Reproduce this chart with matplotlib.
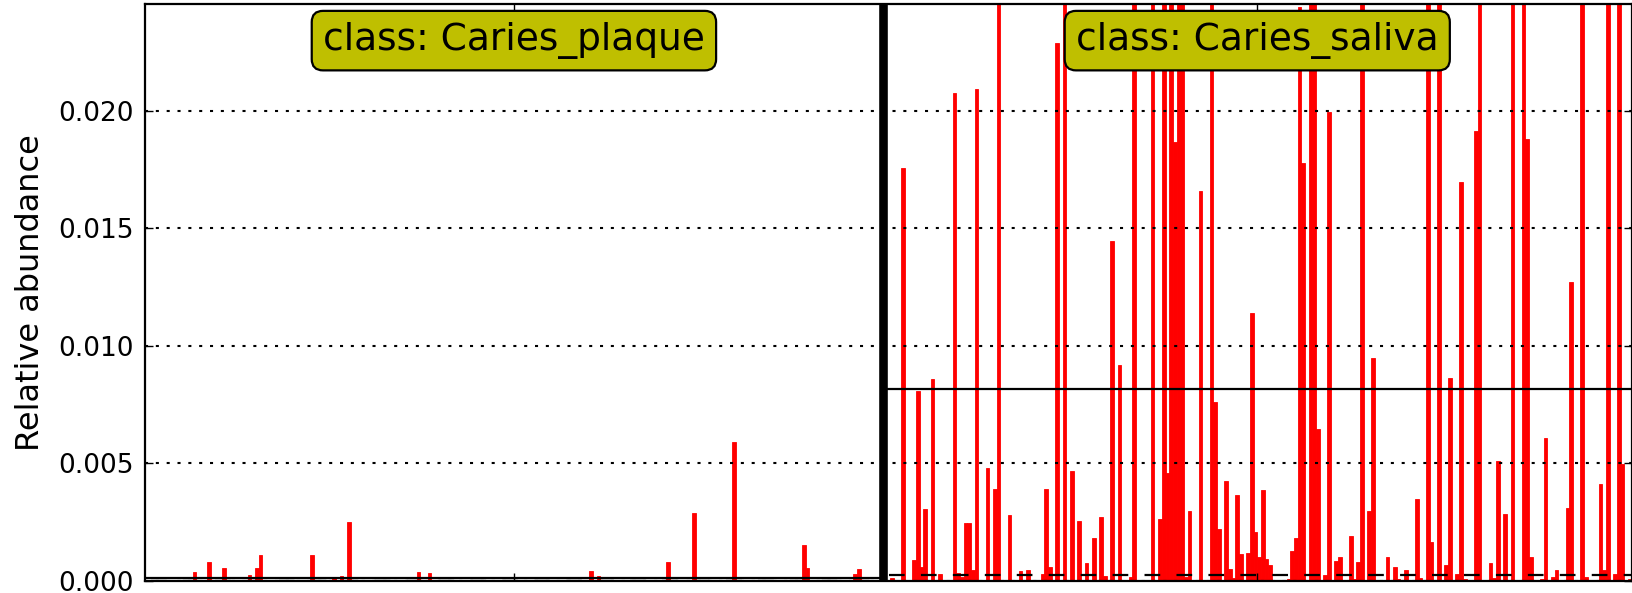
import numpy as np
import matplotlib.pyplot as plt
import matplotlib.transforms as mtransforms
from matplotlib.ticker import FormatStrFormatter

plt.rcParams['lines.scale_dashes'] = False

classes = ['Caries_plaque', 'Caries_saliva']
n_samples = [201, 204]

# only the non-zero samples are listed (values x 1e-3), all other samples are 0
plaque_pos = [13, 17, 21, 28, 30, 31, 45, 51, 53, 55, 74, 77, 121, 123, 142, 149,
              160, 179, 180, 193, 194]
plaque_val = [0.38, 0.80, 0.55, 0.23, 0.55, 1.11, 1.11, 0.17, 0.21, 2.51, 0.36, 0.34,
              0.43, 0.21, 0.80, 2.90, 5.92, 1.52, 0.55, 0.28, 0.51]

saliva_pos = [2, 5, 8, 9, 10, 11, 13, 15, 19, 20,
              21, 22, 23, 24, 25, 28, 30, 31, 34, 37,
              39, 43, 44, 45, 47, 49, 51, 53, 55, 57,
              59, 60, 62, 64, 67, 68, 73, 75, 76, 77,
              78, 79, 80, 81, 82, 83, 86, 89, 90, 91,
              93, 94, 95, 96, 97, 99, 100, 101, 102, 103,
              104, 105, 110, 111, 112, 113, 114, 116, 117, 118,
              120, 121, 123, 124, 127, 128, 129, 130, 132, 133,
              137, 139, 140, 142, 145, 146, 148, 149, 151, 153,
              154, 156, 157, 158, 161, 162, 165, 166, 167, 169,
              171, 174, 175, 176, 179, 180, 182, 183, 186, 187,
              190, 191, 195, 196, 197, 199, 200, 201, 203]
# bars running past the top edge are estimates chosen to keep the class mean ~0.0081
saliva_val = [0.14, 17.55, 0.88, 8.06, 0.57, 3.06, 8.60, 0.31, 20.77, 0.35,
              0.17, 2.46, 2.46, 0.48, 20.93, 4.82, 3.92, 45.2, 2.82, 0.42,
              0.45, 0.28, 3.90, 0.57, 22.9, 38.7, 4.67, 2.55, 0.74, 1.83,
              2.72, 0.21, 14.45, 9.19, 0.17, 91.3, 52.8, 2.61, 34.6, 4.59,
              108.4, 18.68, 146.5, 64.9, 0.17, 2.99, 16.58, 41.3, 7.62, 2.20,
              4.25, 0.51, 0.10, 3.63, 1.12, 1.20, 11.4, 2.07, 1.02, 3.88,
              0.92, 0.69, 0.08, 1.27, 1.80, 24.4, 17.76, 117.2, 58.4, 6.46,
              0.23, 19.96, 0.86, 1.02, 1.90, 0.07, 0.82, 33.1, 2.99, 9.48,
              1.02, 0.59, 0.06, 0.45, 3.47, 0.14, 47.6, 1.67, 29.8, 0.69,
              8.64, 0.27, 16.95, 0.06, 19.14, 102.7, 0.74, 0.10, 5.11, 2.86,
              36.9, 55.3, 18.78, 1.03, 0.08, 6.09, 0.16, 0.44, 3.10, 12.72,
              44.1, 0.16, 4.12, 0.45, 27.5, 0.31, 31.0, 4.97, 0.06]

plaque = np.zeros(n_samples[0])
plaque[plaque_pos] = np.array(plaque_val) * 1e-3
saliva = np.zeros(n_samples[1])
saliva[saliva_pos] = np.array(saliva_val) * 1e-3
groups = [plaque, saliva]
vals = np.concatenate(groups)

W, H = 1633, 593
fig = plt.figure(figsize=(W / 100, H / 100), dpi=100)
ax = fig.add_axes([145 / W, 12.2 / H, 1486.7 / W, 576.8 / H])

ax.bar(np.arange(len(vals)), vals, width=1.0, align='edge', color='red',
       edgecolor='red', lw=0.6, zorder=1)

# mean (solid) and median (dashed) of every class, thick separators between classes
start = 0
centers = []
for g in groups:
    end = start + len(g)
    ax.plot([start, end], [np.mean(g)] * 2, '-', color='k', lw=1.6, zorder=3)
    ax.plot([start, end], [np.median(g)] * 2, color='k', lw=1.6, zorder=3,
            linestyle=(18.7, (11.3, 11.7)))
    centers.append((start + end) / 2)
    if end < len(vals):
        ax.axvline(end, color='k', lw=6.2, zorder=4)
    start = end

ax.set_xlim(0, len(vals))
ax.set_ylim(0, 0.02454)

ax.set_yticks([0.0, 0.005, 0.010, 0.015, 0.020])
ax.yaxis.set_major_formatter(FormatStrFormatter('%.3f'))
ax.set_xticks(centers)
ax.set_xticklabels(['', ''])
ax.yaxis.grid(True, color='k', lw=1.5, linestyle=(0, (2.2, 5.6)))
ax.set_axisbelow(False)
ax.tick_params(direction='in', top=True, right=True, length=6, width=1,
               labelsize=19, pad=8)
for s in ax.spines.values():
    s.set_linewidth(1.6)

ax.set_ylabel('Relative abundance', fontsize=23, labelpad=9)

trans = mtransforms.blended_transform_factory(ax.transData, ax.transAxes)
for c, x in zip(classes, centers):
    ax.text(x, 0.9365, 'class: ' + c, transform=trans, ha='center', va='center',
            fontsize=27, zorder=5,
            bbox=dict(boxstyle='round,pad=0.3', fc=(0.75, 0.75, 0), ec='k', lw=1.6))

fig.savefig('out.png', dpi=100)
